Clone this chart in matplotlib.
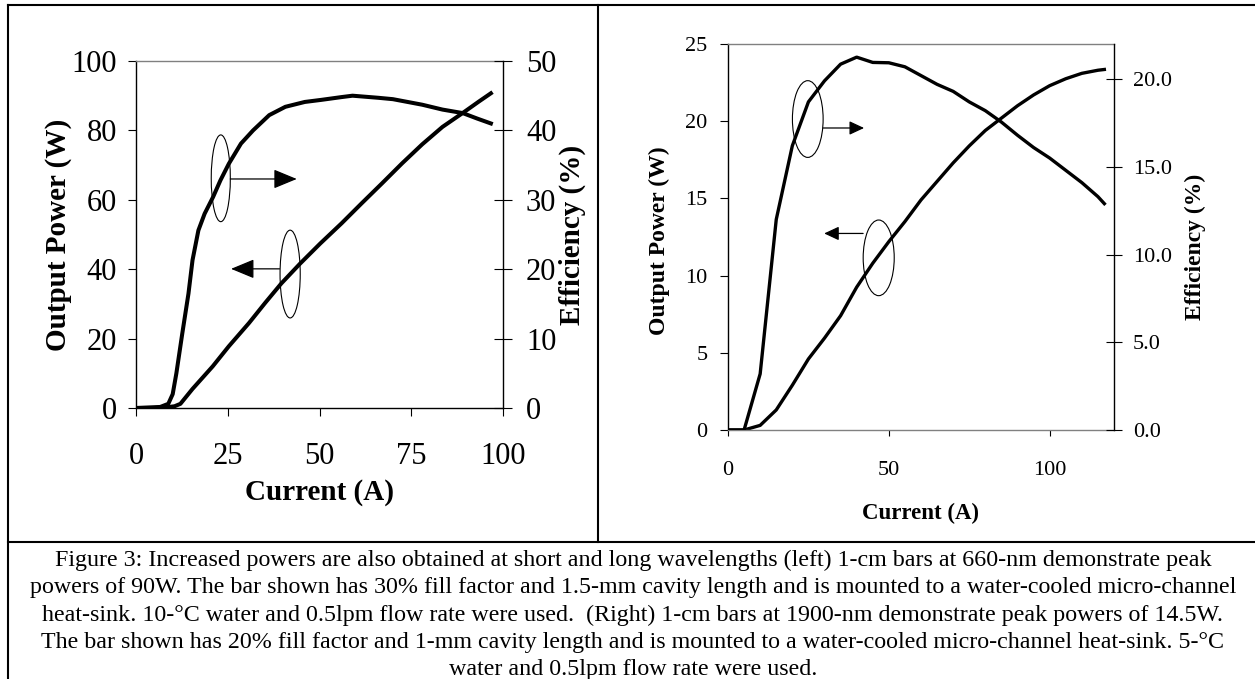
import matplotlib.pyplot as plt
from matplotlib.patches import Ellipse
from matplotlib.lines import Line2D
from matplotlib.ticker import FormatStrFormatter

plt.rcParams['font.family'] = ['Liberation Serif', 'DejaVu Serif']

W, H = 1255, 679

# left panel (660-nm bar)
left_current_p = [0, 5, 9, 10.5, 12.1, 15.4, 20.9, 25.3, 30.8, 35.2, 39.6, 44.7, 50.2,
                  56, 61.5, 67, 72.5, 78, 83.5, 89, 93.4, 96.7]
left_power = [0, 0, 0.3, 0.5, 1.2, 5.5, 12, 17.8, 24.5, 30.3, 35.9, 41.6, 47.4,
              53.2, 59, 64.7, 70.5, 76, 81, 85, 88.3, 90.7]
left_current_e = [0, 6.6, 8.8, 10, 11, 12.6, 14.3, 15.4, 17, 18.7, 21, 23, 25.3, 28.6,
                  31.9, 36.3, 40.7, 46, 50.5, 56, 59, 66, 70, 78, 83.5, 89, 93, 96.7]
left_eff = [0, 0.15, 0.6, 2, 5, 10.7, 16.5, 21.3, 25.6, 28, 30.4, 32.8, 35.2, 38.1,
            40, 42.2, 43.4, 44.1, 44.4, 44.8, 45, 44.7, 44.5, 43.7, 43, 42.5, 41.7, 41]

# right panel (1900-nm bar)
right_current = [0, 5, 10, 15, 20, 25, 30, 35, 40, 45, 50, 55, 60, 65, 70, 75, 80, 85,
                 90, 95, 100, 105, 110, 115, 117]
right_power = [0, 0, 0.3, 1.3, 2.9, 4.6, 5.95, 7.4, 9.25, 10.8, 12.2, 13.5, 14.9, 16.1,
               17.3, 18.4, 19.4, 20.2, 21.0, 21.7, 22.3, 22.75, 23.1, 23.3, 23.35]
right_eff = [0, 0, 3.2, 12.0, 16.2, 18.7, 19.9, 20.85, 21.25, 20.95, 20.93, 20.7, 20.2,
             19.7, 19.3, 18.7, 18.2, 17.55, 16.8, 16.1, 15.5, 14.8, 14.1, 13.3, 12.9]

caption_lines = [
    "Figure 3: Increased powers are also obtained at short and long wavelengths (left) 1-cm bars at 660-nm demonstrate peak",
    "powers of 90W. The bar shown has 30% fill factor and 1.5-mm cavity length and is mounted to a water-cooled micro-channel",
    "heat-sink. 10-\u00b0C water and 0.5lpm flow rate were used.  (Right) 1-cm bars at 1900-nm demonstrate peak powers of 14.5W.",
    "The bar shown has 20% fill factor and 1-mm cavity length and is mounted to a water-cooled micro-channel heat-sink. 5-\u00b0C",
    "water and 0.5lpm flow rate were used.",
]


def box(x0, y0, x1, y1):
    return [x0 / W, 1 - y1 / H, (x1 - x0) / W, (y1 - y0) / H]


def style(ax, ax2, bottom_color):
    ax.spines['top'].set_color('#808080')
    ax.spines['bottom'].set_color(bottom_color)
    ax.spines['right'].set_visible(False)
    for s in ['top', 'bottom', 'left']:
        ax2.spines[s].set_visible(False)
    for s in ax.spines.values():
        s.set_linewidth(1.0)
    ax2.spines['right'].set_linewidth(1.0)


fig = plt.figure(figsize=(W / 100, H / 100), dpi=100)

# ---- left chart
ax = fig.add_axes(box(136, 61, 503, 408))
ax2 = ax.twinx()
ax.plot(left_current_p, left_power, color='black', lw=2.9, solid_joinstyle='round')
ax2.plot(left_current_e, left_eff, color='black', lw=2.9, solid_joinstyle='round')
ax.set_xlim(0, 100)
ax.set_ylim(0, 100)
ax2.set_ylim(0, 50)
ax.set_xticks([0, 25, 50, 75, 100])
ax.set_yticks(range(0, 101, 20))
ax2.set_yticks(range(0, 51, 10))
ax.tick_params(axis='x', direction='out', length=5.8, width=0.8, labelsize=22, pad=18.5)
ax.tick_params(axis='y', direction='out', length=5.8, width=0.8, labelsize=22, pad=8)
ax2.tick_params(axis='y', direction='inout', length=13, width=0.8, labelsize=22, pad=10)
style(ax, ax2, 'black')
ax.set_xlabel('Current (A)', fontsize=21, fontweight='bold', va='center')
ax.xaxis.set_label_coords(0.5, (408 - 493) / 347)
ax.set_ylabel('Output Power (W)', fontsize=21, fontweight='bold', va='center')
ax.yaxis.set_label_coords((58 - 136) / 367, 0.5)
ax2.set_ylabel('Efficiency (%)', fontsize=21, fontweight='bold', va='center')
ax2.yaxis.set_label_coords((572 - 136) / 367, 0.5)

ax.add_patch(Ellipse((23.1, 66.2), 5.2, 25, fill=False, lw=0.8, ec='black'))
ax.add_patch(Ellipse((42, 38.6), 5.5, 25.3, fill=False, lw=0.8, ec='black'))
big_head = dict(arrowstyle='-|>,head_length=14.5,head_width=6', mutation_scale=1,
                color='black', lw=0.9, shrinkA=0, shrinkB=0)
ax.annotate('', xy=(43.8, 66), xytext=(25.7, 66), arrowprops=big_head)
ax.annotate('', xy=(25.9, 40.1), xytext=(39.1, 40.1), arrowprops=big_head)

# ---- right chart
bx = fig.add_axes(box(728, 44, 1114, 430))
bx2 = bx.twinx()
bx.plot(right_current, right_power, color='black', lw=2.4, solid_joinstyle='round')
bx2.plot(right_current, right_eff, color='black', lw=2.4, solid_joinstyle='round')
bx.set_xlim(0, 120)
bx.set_ylim(0, 25)
bx2.set_ylim(0, 22)
bx.set_xticks([0, 50, 100])
bx.set_yticks(range(0, 26, 5))
bx2.set_yticks([0, 5, 10, 15, 20])
bx2.yaxis.set_major_formatter(FormatStrFormatter('%.1f'))
bx.tick_params(axis='x', direction='out', length=4.2, width=0.8, labelsize=16, pad=18)
bx.tick_params(axis='y', direction='out', length=5.8, width=0.8, labelsize=16, pad=9)
bx2.tick_params(axis='y', direction='inout', length=11, width=0.8, labelsize=16, pad=8)
style(bx, bx2, '#808080')
bx.set_xlabel('Current (A)', fontsize=16.5, fontweight='bold', va='center')
bx.xaxis.set_label_coords(0.5, (430 - 513) / 386)
bx.set_ylabel('Output Power (W)', fontsize=17, fontweight='bold', va='center')
bx.yaxis.set_label_coords((659 - 728) / 386, 0.49)
bx2.set_ylabel('Efficiency (%)', fontsize=17, fontweight='bold', va='center')
bx2.yaxis.set_label_coords((1195 - 728) / 386, 0.474)

bx.add_patch(Ellipse((24.8, 20.14), 9.55, 4.97, fill=False, lw=0.8, ec='black'))
bx.add_patch(Ellipse((46.85, 11.15), 9.65, 4.9, fill=False, lw=0.8, ec='black'))
small_head = dict(arrowstyle='-|>,head_length=9,head_width=4.2', mutation_scale=1,
                  color='black', lw=0.9, shrinkA=0, shrinkB=0)
bx.annotate('', xy=(42.3, 19.56), xytext=(29.6, 19.56), arrowprops=small_head)
bx.annotate('', xy=(29.9, 12.73), xytext=(42.0, 12.73), arrowprops=small_head)

# ---- frame and caption
frame = [((8, 5), (1255, 5)), ((8, 5), (8, 679)), ((598, 5), (598, 542)), ((8, 542), (1255, 542))]
for (x0, y0), (x1, y1) in frame:
    fig.add_artist(Line2D([x0 / W, x1 / W], [1 - y0 / H, 1 - y1 / H], color='black', lw=1.5))

baselines = [566, 593.5, 621, 648, 675]
for line, yb in zip(caption_lines, baselines):
    fig.text(633 / W, 1 - yb / H, line, ha='center', va='baseline', fontsize=17.3)

fig.savefig('out.png', dpi=100)
